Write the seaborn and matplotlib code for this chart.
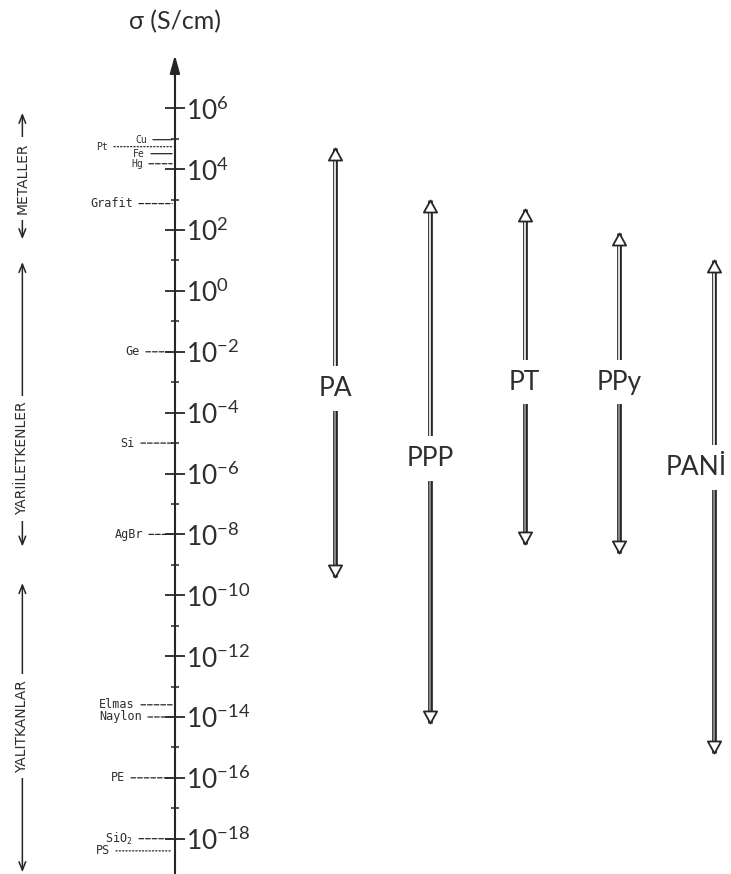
import matplotlib
matplotlib.use("Agg")
import numpy as np
import pandas as pd
import matplotlib.pyplot as plt
import matplotlib.ticker as mticker
import matplotlib.transforms as mtransforms
from matplotlib.path import Path
import seaborn as sns

# Conducting polymers: conductivity range, log10(S/cm)
polymers = ["PA", "PPP", "PT", "PPy", "PANİ"]
poly_high = [4.7, 3.0, 2.7, 1.9, 1.0]
poly_low = [-9.4, -14.2, -8.3, -8.6, -15.2]
poly_label_at = [-3.2, -5.5, -3.0, -3.0, -5.8]

# Reference materials marked on the scale, log10(S/cm)
materials = ["Cu", "Pt", "Fe", "Hg", "Grafit", "Ge", "Si", "AgBr",
             "Elmas", "Naylon", "PE", "SiO$_2$", "PS"]
material_log = [4.97, 4.74, 4.51, 4.18, 2.87, -2.0, -5.0, -8.0,
                -13.6, -14.0, -16.0, -18.0, -18.4]

# Material classes, log10 bounds
classes = ["METALLER", "YARIİLETKENLER", "YALITKANLAR"]
class_low = [1.7, -8.4, -19.1]
class_high = [5.85, 0.95, -9.6]
class_label_at = [3.7, -5.5, -14.3]

# Scale ticks (exponents)
major_exp = list(range(-18, 7, 2))
minor_exp = list(range(-17, 6, 2))

# ---- styling -------------------------------------------------------------
ink = "#262626"
text_c = "#2e2e2e"
leader_px = [28, 67, 30, 32, 42, 35, 40, 32, 40, 33, 50, 42, 65]
leader_ls = ["-", ":", "-", "--", "--", "--", "--", "--", "--", "--", "--", "--", ":"]
material_fs = [7.0, 7.0, 7.0, 7.0] + [8.5] * 9
axis_x = -1.69          # position of the conductivity scale
bracket_x = -3.30       # position of the class brackets

sns.set_theme(style="white")
plt.rcParams["font.family"] = ["Lato", "DejaVu Sans"]
plt.rcParams["font.weight"] = "normal"
plt.rcParams["mathtext.default"] = "regular"

fig = plt.figure(figsize=(7.31, 8.74), dpi=100)
fig.patch.set_facecolor("white")
ax = fig.add_axes([0, 0, 1, 1])
ax.set_facecolor("white")
ax.set_yscale("log")
ax.set_xlim(-3.536, 4.179)
ax.set_ylim(10 ** -19.16, 10 ** 9.56)

# ---- conductivity scale --------------------------------------------------
for s in ["top", "bottom", "left"]:
    ax.spines[s].set_visible(False)
sp = ax.spines["right"]
sp.set_position(("data", axis_x))
sp.set_bounds(10 ** -19.16, 10 ** 7.3)
sp.set_color(ink)
sp.set_linewidth(1.5)
ax.yaxis.set_ticks_position("right")
ax.yaxis.set_major_locator(mticker.FixedLocator([10.0 ** e for e in major_exp]))
ax.yaxis.set_minor_locator(mticker.FixedLocator([10.0 ** e for e in minor_exp]))
ax.yaxis.set_major_formatter(mticker.FuncFormatter(
    lambda v, p: rf"$10^{{{int(round(np.log10(v)))}}}$"))
ax.yaxis.set_minor_formatter(mticker.NullFormatter())
ax.tick_params(axis="y", which="major", direction="inout", length=14, width=1.3,
               color=ink, pad=1, labelsize=19, labelcolor=text_c)
ax.tick_params(axis="y", which="minor", direction="inout", length=6, width=1.1,
               color=ink)
ax.xaxis.set_visible(False)
ax.grid(False)

ax.annotate("", xy=(axis_x, 10 ** 7.75), xytext=(axis_x, 10 ** 7.0),
            arrowprops=dict(arrowstyle="-|>,head_length=0.9,head_width=0.25",
                            color=ink, lw=1.5, shrinkA=0, shrinkB=0))
ax.text(axis_x, 0.975, "σ (S/cm)", transform=mtransforms.blended_transform_factory(
    ax.transData, ax.transAxes), ha="center", va="center", fontsize=18, color=text_c)

# ---- reference materials -------------------------------------------------
for name, v, L, ls, fs in zip(materials, material_log, leader_px, leader_ls, material_fs):
    ax.annotate(name, xy=(axis_x, 10 ** v), xytext=(-L, 0), textcoords="offset pixels",
                ha="right", va="center", fontsize=fs, color=text_c,
                family="DejaVu Sans Mono", weight="normal",
                arrowprops=dict(arrowstyle="-", color=ink, lw=0.9, linestyle=ls,
                                shrinkA=2, shrinkB=2))

# ---- class brackets ------------------------------------------------------
for name, lo, hi, mid in zip(classes, class_low, class_high, class_label_at):
    ax.annotate("", xy=(bracket_x, 10 ** hi), xytext=(bracket_x, 10 ** lo),
                arrowprops=dict(arrowstyle="<->,head_length=0.5,head_width=0.2",
                                color=ink, lw=1.1, shrinkA=0, shrinkB=0))
    ax.text(bracket_x, 10 ** mid, name, rotation=90, ha="center", va="center",
            fontsize=10, color=text_c, family="DejaVu Sans", weight="normal",
            bbox=dict(fc="white", ec="none", pad=4))

# ---- polymer ranges ------------------------------------------------------
xs = np.arange(len(polymers))
for x, hi, lo, mid, name in zip(xs, poly_high, poly_low, poly_label_at, polymers):
    for a, b, inner in ((mid, hi, "white"), (lo, mid, "#9a9a9a")):
        ax.plot([x, x], [10 ** a, 10 ** b], color=ink, lw=3.4,
                solid_capstyle="butt", zorder=2)
        ax.plot([x, x], [10 ** a, 10 ** b], color=inner, lw=1.2,
                solid_capstyle="butt", zorder=3)
    dx = -18 if name == "PANİ" else 0
    ax.annotate(name, xy=(x, 10 ** mid), xytext=(dx, 0), textcoords="offset pixels",
                ha="center", va="center", fontsize=19, color=text_c, zorder=6,
                bbox=dict(fc="white", ec="none", pad=7))

tip_up = Path([(0, 0), (-0.55, -1), (0.55, -1), (0, 0)],
              [Path.MOVETO, Path.LINETO, Path.LINETO, Path.CLOSEPOLY])
tip_down = Path([(0, 0), (-0.55, 1), (0.55, 1), (0, 0)],
                [Path.MOVETO, Path.LINETO, Path.LINETO, Path.CLOSEPOLY])
ends = pd.DataFrame({"x": np.r_[xs, xs],
                     "sigma": 10.0 ** np.r_[poly_high, poly_low],
                     "end": ["high"] * len(xs) + ["low"] * len(xs)})
sns.scatterplot(data=ends[ends.end == "high"], x="x", y="sigma", marker=tip_up,
                s=300, color="white", edgecolor=ink, linewidth=1.3, zorder=5,
                legend=False, ax=ax)
sns.scatterplot(data=ends[ends.end == "low"], x="x", y="sigma", marker=tip_down,
                s=300, color="white", edgecolor=ink, linewidth=1.3, zorder=5,
                legend=False, ax=ax)
ax.set_xlabel("")
ax.set_ylabel("")
ax.set_xlim(-3.536, 4.179)
ax.set_ylim(10 ** -19.16, 10 ** 9.56)

fig.savefig("out.png", dpi=100, facecolor="white")
